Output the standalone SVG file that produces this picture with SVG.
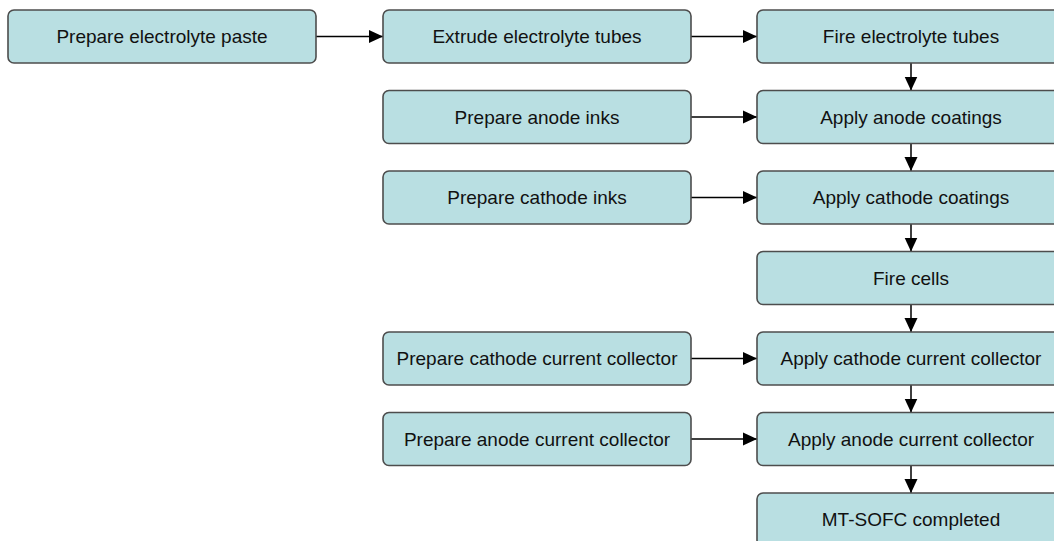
<svg xmlns="http://www.w3.org/2000/svg" width="1054" height="541" viewBox="0 0 1054 541">
<style>
.box{fill:#b9dfe2;stroke:#4d4d4d;stroke-width:1.6}
.lbl{font-family:"Liberation Sans",Arial,sans-serif;font-size:19px;fill:#111;text-anchor:middle}
.conn{stroke:#000;stroke-width:1.5;fill:none;marker-end:url(#ah)}
</style>
<defs>
<marker id="ah" markerUnits="userSpaceOnUse" markerWidth="14" markerHeight="14" refX="14" refY="7" orient="auto">
<path d="M0,0.5 L14,7 L0,13.5 z" fill="#000"/>
</marker>
</defs>
<rect width="1054" height="541" fill="#fff"/>
<g id="connectors">
<line class="conn" x1="316" y1="36.5" x2="383" y2="36.5"/>
<line class="conn" x1="691" y1="36.5" x2="757" y2="36.5"/>
<line class="conn" x1="691" y1="117" x2="757" y2="117"/>
<line class="conn" x1="691" y1="197.5" x2="757" y2="197.5"/>
<line class="conn" x1="691" y1="358.5" x2="757" y2="358.5"/>
<line class="conn" x1="691" y1="439" x2="757" y2="439"/>
<line class="conn" x1="911" y1="63" x2="911" y2="90.5"/>
<line class="conn" x1="911" y1="143.5" x2="911" y2="171"/>
<line class="conn" x1="911" y1="224" x2="911" y2="251.5"/>
<line class="conn" x1="911" y1="304.5" x2="911" y2="332"/>
<line class="conn" x1="911" y1="385" x2="911" y2="412.5"/>
<line class="conn" x1="911" y1="465.5" x2="911" y2="493"/>
</g>
<g id="n1"><rect class="box" x="8" y="10" width="308" height="53" rx="6"/><text class="lbl" x="162" y="43.3">Prepare electrolyte paste</text></g>
<g id="n2"><rect class="box" x="383" y="10" width="308" height="53" rx="6"/><text class="lbl" x="537" y="43.3">Extrude electrolyte tubes</text></g>
<g id="n3"><rect class="box" x="757" y="10" width="308" height="53" rx="6"/><text class="lbl" x="911" y="43.3">Fire electrolyte tubes</text></g>
<g id="n4"><rect class="box" x="383" y="90.5" width="308" height="53" rx="6"/><text class="lbl" x="537" y="123.8">Prepare anode inks</text></g>
<g id="n5"><rect class="box" x="757" y="90.5" width="308" height="53" rx="6"/><text class="lbl" x="911" y="123.8">Apply anode coatings</text></g>
<g id="n6"><rect class="box" x="383" y="171" width="308" height="53" rx="6"/><text class="lbl" x="537" y="204.3">Prepare cathode inks</text></g>
<g id="n7"><rect class="box" x="757" y="171" width="308" height="53" rx="6"/><text class="lbl" x="911" y="204.3">Apply cathode coatings</text></g>
<g id="n8"><rect class="box" x="757" y="251.5" width="308" height="53" rx="6"/><text class="lbl" x="911" y="284.8">Fire cells</text></g>
<g id="n9"><rect class="box" x="383" y="332" width="308" height="53" rx="6"/><text class="lbl" x="537" y="365.3">Prepare cathode current collector</text></g>
<g id="n10"><rect class="box" x="757" y="332" width="308" height="53" rx="6"/><text class="lbl" x="911" y="365.3">Apply cathode current collector</text></g>
<g id="n11"><rect class="box" x="383" y="412.5" width="308" height="53" rx="6"/><text class="lbl" x="537" y="445.8">Prepare anode current collector</text></g>
<g id="n12"><rect class="box" x="757" y="412.5" width="308" height="53" rx="6"/><text class="lbl" x="911" y="445.8">Apply anode current collector</text></g>
<g id="n13"><rect class="box" x="757" y="493" width="308" height="53" rx="6"/><text class="lbl" x="911" y="526.3">MT-SOFC completed</text></g>
</svg>
